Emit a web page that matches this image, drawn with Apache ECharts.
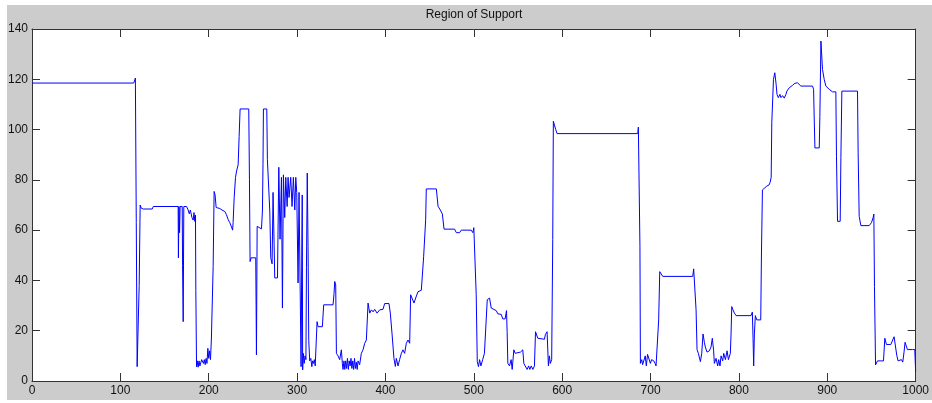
<!DOCTYPE html>
<html>
<head>
<meta charset="utf-8">
<script src="https://cdn.jsdelivr.net/npm/echarts@6/dist/echarts.min.js"></script>
<style>
  html, body { margin: 0; padding: 0; background: #ffffff; }
  #frame { position: absolute; left: 7px; top: 5px; width: 925px; height: 395px; background: #cccccc; }
  #chart { position: absolute; left: 0; top: 0; width: 932px; height: 403px; }
</style>
</head>
<body>
<div id="frame"></div>
<div id="chart"></div>
<script>
const chartTitle = 'Region of Support';
const xTicks = [0, 100, 200, 300, 400, 500, 600, 700, 800, 900, 1000];
const yTicks = [0, 20, 40, 60, 80, 100, 120, 140];

const xValues = [
  0, 115, 116, 117, 118, 119, 120.5, 121.3, 122.4, 123.5, 125.8, 136, 137.3, 165.4, 165.7, 166.3, 167, 167.6, 170, 170.4,
  171.1, 171.8, 174.9, 176.7, 178, 179.2, 179.8, 181, 182.4, 183.3, 184.3, 185, 185.4, 186.2, 187, 188, 189, 190, 191, 192,
  193, 194, 195, 196, 197, 198, 199, 200, 201, 202, 203, 204, 205, 206.1, 207.2, 208.4, 212.6, 215, 218.2, 220,
  222, 223.8, 225.8, 227, 227.6, 228.8, 230.3, 231.5, 233.3, 234.4, 235.5, 245.3, 246.1, 246.8, 248, 253.2, 253.6, 254, 254.8, 256,
  259.7, 260.8, 261.4, 261.9, 265.7, 266.4, 268.3, 269.1, 270.2, 271.7, 272.8, 274, 274.7, 277.8, 279.3, 280.7, 282.3, 283.4, 284.5, 286,
  287.2, 288.7, 289.8, 290.9, 292.8, 294.3, 295.8, 297.4, 298.5, 299.6, 301.1, 302.2, 303.4, 304.5, 305.2, 305.8, 306.3, 307, 308, 309,
  310, 310.6, 311.5, 312.4, 313.2, 314.3, 315.5, 316.7, 317.5, 318.5, 319.5, 320.5, 321.9, 322.6, 323.7, 328.6, 330.1, 340.7, 341.8, 342.6,
  343.7, 344.5, 346.3, 348.2, 350.1, 351.2, 352, 353, 354, 355, 356, 357, 358, 359, 360, 361, 362, 363, 364, 365,
  366, 367, 368, 369, 370.8, 372.7, 374.6, 376.5, 378.4, 380.3, 382.2, 384.1, 386, 387.8, 390.5, 393.5, 397.2, 399.1, 404, 405.5,
  407.4, 409.6, 411.2, 412.3, 414.2, 416, 417.9, 419.8, 421.7, 423.6, 425.5, 427.4, 428.5, 430.4, 432.3, 434.2, 436.8, 440.6, 443.2, 445.5,
  446.2, 457.6, 459.5, 462.1, 464.4, 466.3, 478.2, 480.2, 483.9, 485.8, 497.1, 498.9, 500, 501.5, 502.7, 503.9, 505.3, 506.5, 508, 510,
  512, 514, 515.2, 517.8, 519.7, 521.5, 525.3, 527.2, 531, 532.8, 535.4, 537, 537.7, 538.5, 540.4, 542.2, 543.4, 545.3, 546.8, 552.8,
  555.4, 556.6, 558.1, 560.4, 562, 563.4, 565, 566.8, 568.6, 569.8, 570.9, 572.4, 574.2, 579.9, 581, 582.9, 584.4, 585.5, 586.6, 588.1,
  589.3, 590, 591.2, 592.7, 594.2, 685.5, 686.2, 687.3, 688, 688.5, 690, 691, 692.9, 694, 695.2, 696.6, 698.5, 699.8, 701.2, 703.6,
  705.1, 706.2, 708.1, 709.2, 710.4, 711.9, 713.8, 747.7, 748.8, 750.3, 751.5, 752.6, 754.1, 756.4, 757.9, 759.4, 760.9, 762, 763.9, 766.5,
  768.4, 769.9, 771.4, 772.2, 774.1, 776, 777.1, 778.6, 779.8, 781.6, 782.8, 784.7, 786.6, 788.1, 790.3, 791.1, 791.9, 793, 794.9, 796.8,
  813.7, 815.2, 816, 816.7, 817.5, 818.6, 820.2, 824.7, 825.5, 826.6, 827.7, 831.5, 834.1, 835.3, 836.5, 837.2, 839.1, 840.6, 842.1, 843.1,
  844.6, 846.4, 847.6, 849.4, 851.3, 853.2, 854.3, 856.9, 860.7, 863.3, 866.3, 868.3, 870.1, 883.3, 884.5, 885.2, 886, 890.9, 891.6, 892.8,
  893.5, 894.6, 896.5, 898.4, 902.2, 905.9, 909.7, 910.4, 911.6, 914.6, 915.4, 916.5, 934.2, 934.9, 936.1, 938, 947.4, 950, 951.9, 952.7,
  953.4, 954.6, 956.8, 958.7, 960.6, 963.6, 965.1, 967, 969.2, 971.9, 973.8, 975.6, 977.1, 978.6, 980.1, 982, 983.9, 985.4, 986.9, 988,
  989.5, 990.7, 996.3, 999, 1000
];

const yValues = [
  118.5, 118.5, 119.3, 120.5, 63, 5.7, 5.7, 38, 70, 68.8, 68.4, 68.4, 69.4, 69.4, 49, 69.4, 59, 69.4, 69.4, 46,
  23.6, 69.4, 69.4, 68, 66.5, 68, 67, 65, 64, 67, 63.5, 66, 36, 5.7, 8, 5.5, 8, 6, 5.5, 8.5,
  9, 7, 8.5, 6.5, 9, 7, 13, 9, 12, 8.5, 16.7, 17, 45.5, 75.4, 74, 69, 68.6, 68, 67.4, 66.2,
  64.2, 63, 61.3, 60, 63, 73, 81, 83.5, 86, 97.3, 108.2, 108.2, 80, 47.5, 49, 49, 30, 10.4, 61.5, 61,
  60.5, 68, 86, 108.2, 108.2, 88, 87.4, 67.6, 49, 46.6, 75, 54.4, 41, 41, 85, 56.4, 81, 29, 82, 65,
  81, 69.4, 81, 73, 81, 69.4, 81, 68, 81, 75, 39, 75, 39, 5.7, 45, 74, 4.4, 11, 7, 10,
  8.5, 45, 82.7, 53.5, 16, 8, 9, 5.7, 8, 7, 8.5, 6, 6, 23.6, 21.6, 21.6, 30.3, 30.3, 34.8, 39.6,
  38.2, 11, 10, 8.5, 12.4, 7, 4.6, 8, 4.6, 8, 5, 9, 4.6, 8, 6, 9, 5, 8, 4.6, 9,
  5, 7.5, 4.6, 8, 6.5, 11, 12.4, 15, 16.3, 31, 27, 28.3, 27.5, 28.5, 27, 28.3, 28.5, 30.8, 30.8, 27,
  19, 9, 5.8, 9, 6, 8.5, 10.9, 12.4, 11, 15, 16.3, 15, 34.3, 34.9, 31, 33, 35.5, 36.1, 49.4, 64.1,
  76.4, 76.4, 69.5, 68, 66.4, 60.4, 60.4, 59, 59, 60, 60, 59, 61, 61.7, 34.3, 7.7, 5.7, 8.5, 6, 8.5,
  11, 11, 32.3, 33, 29, 28.6, 28, 26.7, 26.5, 24.7, 24.7, 28, 19.6, 7, 6, 8.5, 4.6, 12.4, 11, 11.5,
  12.4, 7, 6, 4.6, 6, 4.6, 6, 4.6, 6, 19.6, 19, 17, 16.6, 16.6, 18.5, 19.6, 6, 10, 7, 8.5,
  56.2, 103.3, 102.8, 100, 98.4, 98.4, 101, 101, 53.5, 7, 8.5, 6.5, 6, 10, 6, 10.6, 10.6, 7, 8.5, 8,
  7, 6, 6, 24.3, 43.5, 43.3, 41.6, 41.6, 44.6, 44.6, 28.3, 12.5, 11, 7.7, 11, 18.7, 15.4, 13.5, 11.5, 12,
  13.5, 17, 12, 7, 9, 6, 8.5, 6, 10, 8, 11, 8.5, 12, 8.5, 11, 18.7, 29.6, 28.5, 27, 26,
  26, 27.4, 16.8, 6, 18.7, 26, 24.3, 24.3, 50.9, 76, 76.5, 77.5, 78, 79, 81, 102.7, 120, 122.6, 118, 114,
  112.7, 114, 112.7, 113.5, 112.5, 114, 115.3, 116.6, 117.6, 118.4, 118.6, 118, 117.3, 117.3, 116, 104.6, 92.7, 92.7, 105.2, 135.2,
  134.5, 123.9, 120, 117.3, 116, 115, 115, 89.4, 63.5, 63.5, 89, 115.3, 115.3, 91, 65.5, 61.8, 61.8, 63, 65, 66.4,
  37.6, 6.4, 8, 7.5, 8, 8, 17, 14.5, 13.8, 14.5, 15, 17.6, 17, 10.3, 8, 7.5, 8.5, 7.5, 11.6, 15.4,
  15, 12.5, 12.5, 12.5, 3.7
];

const seriesData = xValues.map((x, i) => [x, yValues[i]]);

const FONT = 'Liberation Sans, Arial, sans-serif';
const axisColor = '#333333';
const plain = v => String(v);

function xAxisDef(pos, showLabel) {
  return {
    type: 'value', position: pos, min: xTicks[0], max: xTicks[xTicks.length - 1], interval: 100,
    axisLine: { show: true, onZero: false, lineStyle: { color: axisColor, width: 1 } },
    axisTick: { show: true, inside: true, length: 8, lineStyle: { color: axisColor, width: 1 } },
    axisLabel: { show: showLabel, color: '#111111', fontSize: 12, fontFamily: FONT, margin: 4, formatter: plain },
    splitLine: { show: false }
  };
}
function yAxisDef(pos, showLabel) {
  return {
    type: 'value', position: pos, min: yTicks[0], max: yTicks[yTicks.length - 1], interval: 20,
    axisLine: { show: true, onZero: false, lineStyle: { color: axisColor, width: 1 } },
    axisTick: { show: true, inside: true, length: 8, lineStyle: { color: axisColor, width: 1 } },
    axisLabel: { show: showLabel, color: '#111111', fontSize: 12, fontFamily: FONT, margin: 4, formatter: plain },
    splitLine: { show: false }
  };
}

const chart = echarts.init(document.getElementById('chart'), null, { renderer: 'canvas' });
chart.setOption({
  animation: false,
  backgroundColor: 'transparent',
  grid: { left: 32, right: 15, top: 29, bottom: 22, show: true, backgroundColor: '#ffffff', borderWidth: 0, containLabel: false },
  graphic: [{
    type: 'text', x: 474, y: 15, z: 10,
    style: { text: chartTitle, align: 'center', verticalAlign: 'middle', fontSize: 12, fontFamily: FONT, fill: '#111111' }
  }],
  xAxis: [xAxisDef('bottom', true), xAxisDef('top', false)],
  yAxis: [yAxisDef('left', true), yAxisDef('right', false)],
  series: [{
    type: 'line', xAxisIndex: 0, yAxisIndex: 0, data: seriesData, showSymbol: false, symbol: 'none',
    lineStyle: { color: '#0000ff', width: 1 }, itemStyle: { color: '#0000ff' }
  }]
});
</script>
</body>
</html>
